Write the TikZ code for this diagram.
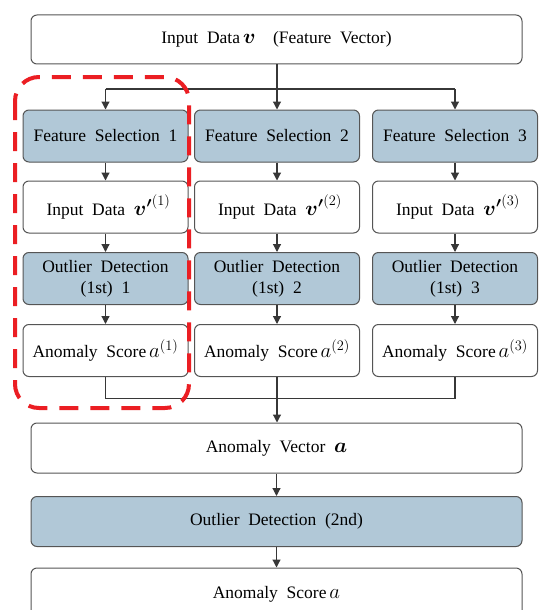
\documentclass[tikz,border=0pt]{standalone}
\usepackage{amsmath,bm}
\usepackage{fontspec}
\setmainfont{Liberation Serif}
\usetikzlibrary{arrows.meta}
\definecolor{boxblue}{RGB}{177,200,215}
\definecolor{edge}{RGB}{85,85,85}
\definecolor{arr}{RGB}{55,55,55}
\definecolor{dashred}{RGB}{235,30,35}
\newcommand{\wsp}{\hspace{0.5em}}
\newcommand{\mymath}[1]{{\fontsize{20}{22}\selectfont$#1$}}
\newcommand{\supr}[1]{^{\mbox{\fontsize{14}{14}\selectfont$(#1)$}}}
\tikzset{
  base/.style={draw=edge, line width=1pt, rounded corners=6pt, align=center, inner sep=0pt,
    font=\fontsize{17.5}{22}\selectfont},
  wbox/.style={base, fill=white},
  bbox/.style={base, fill=boxblue},
  colbox/.style={minimum width=165pt, minimum height=52pt},
  widebox/.style={minimum width=491pt, minimum height=50pt},
  conn/.style={draw=arr, line width=1.2pt, -{Triangle[width=8pt,length=8pt]}},
  plainline/.style={draw=arr, line width=1.2pt},
}
\begin{document}
\begin{tikzpicture}[x=1pt,y=-1pt]
\clip (0,0) rectangle (541,610);
\useasboundingbox (0,0) rectangle (541,610);
% top
\node[wbox, widebox, minimum height=49pt] (inp) at (276.5,39.5) {Input\wsp Data\,\mymath{\bm{v}}\wsp\wsp(Feature\wsp Vector)};
% columns
\foreach \i/\x in {1/105.5,2/277,3/455}{
  \node[bbox, colbox] (fs\i) at (\x,136) {Feature\wsp Selection\wsp\i};
  \node[wbox, colbox] (id\i) at (\x,207) {\hspace*{6pt}Input\wsp Data\wsp\mymath{{\bm{v'}}\supr{\i}}};
  \node[bbox, colbox] (od\i) at (\x,278.5) {Outlier\wsp Detection\\[-1pt](1st)\wsp\i};
  \node[wbox, colbox] (as\i) at (\x,350.5) {Anomaly\wsp Score\,\mymath{a\supr{\i}}};
  \draw[conn] (fs\i) -- (id\i);
  \draw[conn] (id\i) -- (od\i);
  \draw[conn] (od\i) -- (as\i);
}
% bottom
\node[wbox, widebox] (av) at (276.5,448) {Anomaly\wsp Vector\wsp\mymath{\bm{a}}};
\node[bbox, widebox] (od) at (276.5,521.5) {Outlier\wsp Detection\wsp(2nd)};
\node[wbox, widebox, minimum height=52pt] (as) at (276.5,594) {Anomaly\wsp Score\,\mymath{a}};
% split
\coordinate (sp) at (277,89);
\coordinate (sp1) at (105.5,89);
\coordinate (sp3) at (455,89);
\draw[plainline] (inp.south -| sp) -- (sp);
\draw[plainline] (sp1) -- (sp3);
\draw[conn] (sp1) -- (fs1);
\draw[conn] (sp) -- (fs2);
\draw[conn] (sp3) -- (fs3);
% merge
\coordinate (mg) at (277,398.5);
\draw[plainline] (as1) |- (mg);
\draw[plainline] (as3) |- (mg);
\draw[plainline] (as2) -- (mg);
\draw[conn] (mg) -- (av.north -| mg);
\draw[conn] (av) -- (od);
\draw[conn] (od) -- (as);
% red dashed group
\draw[dashred, line width=4pt, dash pattern=on 19pt off 12pt, rounded corners=24pt]
  (15,77) rectangle (189,408);
\end{tikzpicture}
\end{document}
